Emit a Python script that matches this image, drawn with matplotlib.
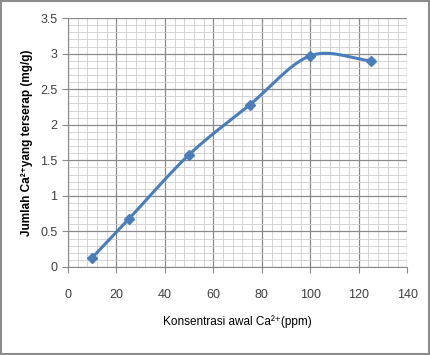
import numpy as np
import matplotlib
matplotlib.use("Agg")
import matplotlib.pyplot as plt
from matplotlib.ticker import MultipleLocator

konsentrasi = [10, 25, 50, 75, 100, 125]
terserap = [0.13, 0.67, 1.58, 2.28, 2.97, 2.90]

x_ticks = [0, 20, 40, 60, 80, 100, 120, 140]
y_ticks = [0, 0.5, 1, 1.5, 2, 2.5, 3, 3.5]


def smooth(xs, ys, n=30):
    # Catmull-Rom like Excel's smoothed line
    xs = np.asarray(xs, float)
    ys = np.asarray(ys, float)
    px = np.concatenate([[2 * xs[0] - xs[1]], xs, [2 * xs[-1] - xs[-2]]])
    py = np.concatenate([[2 * ys[0] - ys[1]], ys, [2 * ys[-1] - ys[-2]]])
    ox, oy = [], []
    t = np.linspace(0, 1, n)
    for i in range(1, len(px) - 2):
        for p, out in ((px, ox), (py, oy)):
            p0, p1, p2, p3 = p[i - 1], p[i], p[i + 1], p[i + 2]
            c1 = p1 + (p2 - p0) / 6
            c2 = p2 - (p3 - p1) / 6
            b = ((1 - t) ** 3) * p1 + 3 * ((1 - t) ** 2) * t * c1 + 3 * (1 - t) * t ** 2 * c2 + t ** 3 * p2
            out.extend(b)
    return ox, oy


plt.rcParams['font.family'] = ['Liberation Sans', 'DejaVu Sans']

fig = plt.figure(figsize=(4.3, 3.55), dpi=100)
fig.patches.append(plt.Rectangle((0.002, 0.002), 0.996, 0.996, transform=fig.transFigure,
                                 fill=False, edgecolor='#8c8c8c', linewidth=1.5))
ax = fig.add_axes([0.158, 0.248, 0.789, 0.701])

sx, sy = smooth(konsentrasi, terserap)
ax.plot(sx, sy, color='#4a7ebb', linewidth=2.2, zorder=3)
ax.plot(konsentrasi, terserap, linestyle='none', marker='D', markersize=5,
        color='#4a7ebb', zorder=4)

ax.set_xlim(0, 140)
ax.set_ylim(0, 3.5)
ax.set_xticks(x_ticks)
ax.set_yticks(y_ticks)
ax.set_yticklabels(['0', '0.5', '1', '1.5', '2', '2.5', '3', '3.5'])
ax.xaxis.set_minor_locator(MultipleLocator(4))
ax.yaxis.set_minor_locator(MultipleLocator(0.1))
ax.grid(which='major', color='#8a8a8a', linewidth=0.9)
ax.grid(which='minor', color='#cfcfcf', linewidth=0.6)
ax.set_axisbelow(True)
for s in ax.spines.values():
    s.set_color('#8a8a8a')
    s.set_linewidth(0.8)
ax.spines['top'].set_visible(False)
ax.spines['right'].set_visible(False)
ax.tick_params(which='major', length=4, color='#8a8a8a', labelsize=9, labelcolor='#404040')
ax.tick_params(which='minor', length=0)
ax.tick_params(axis='x', pad=12)

ax.set_xlabel('Konsentrasi awal Ca²⁺(ppm)', fontsize=8.5, labelpad=10)
ax.set_ylabel('Jumlah Ca²⁺yang terserap (mg/g)', fontsize=8.5, fontweight='bold', labelpad=5)

fig.savefig('out.png', dpi=100)
